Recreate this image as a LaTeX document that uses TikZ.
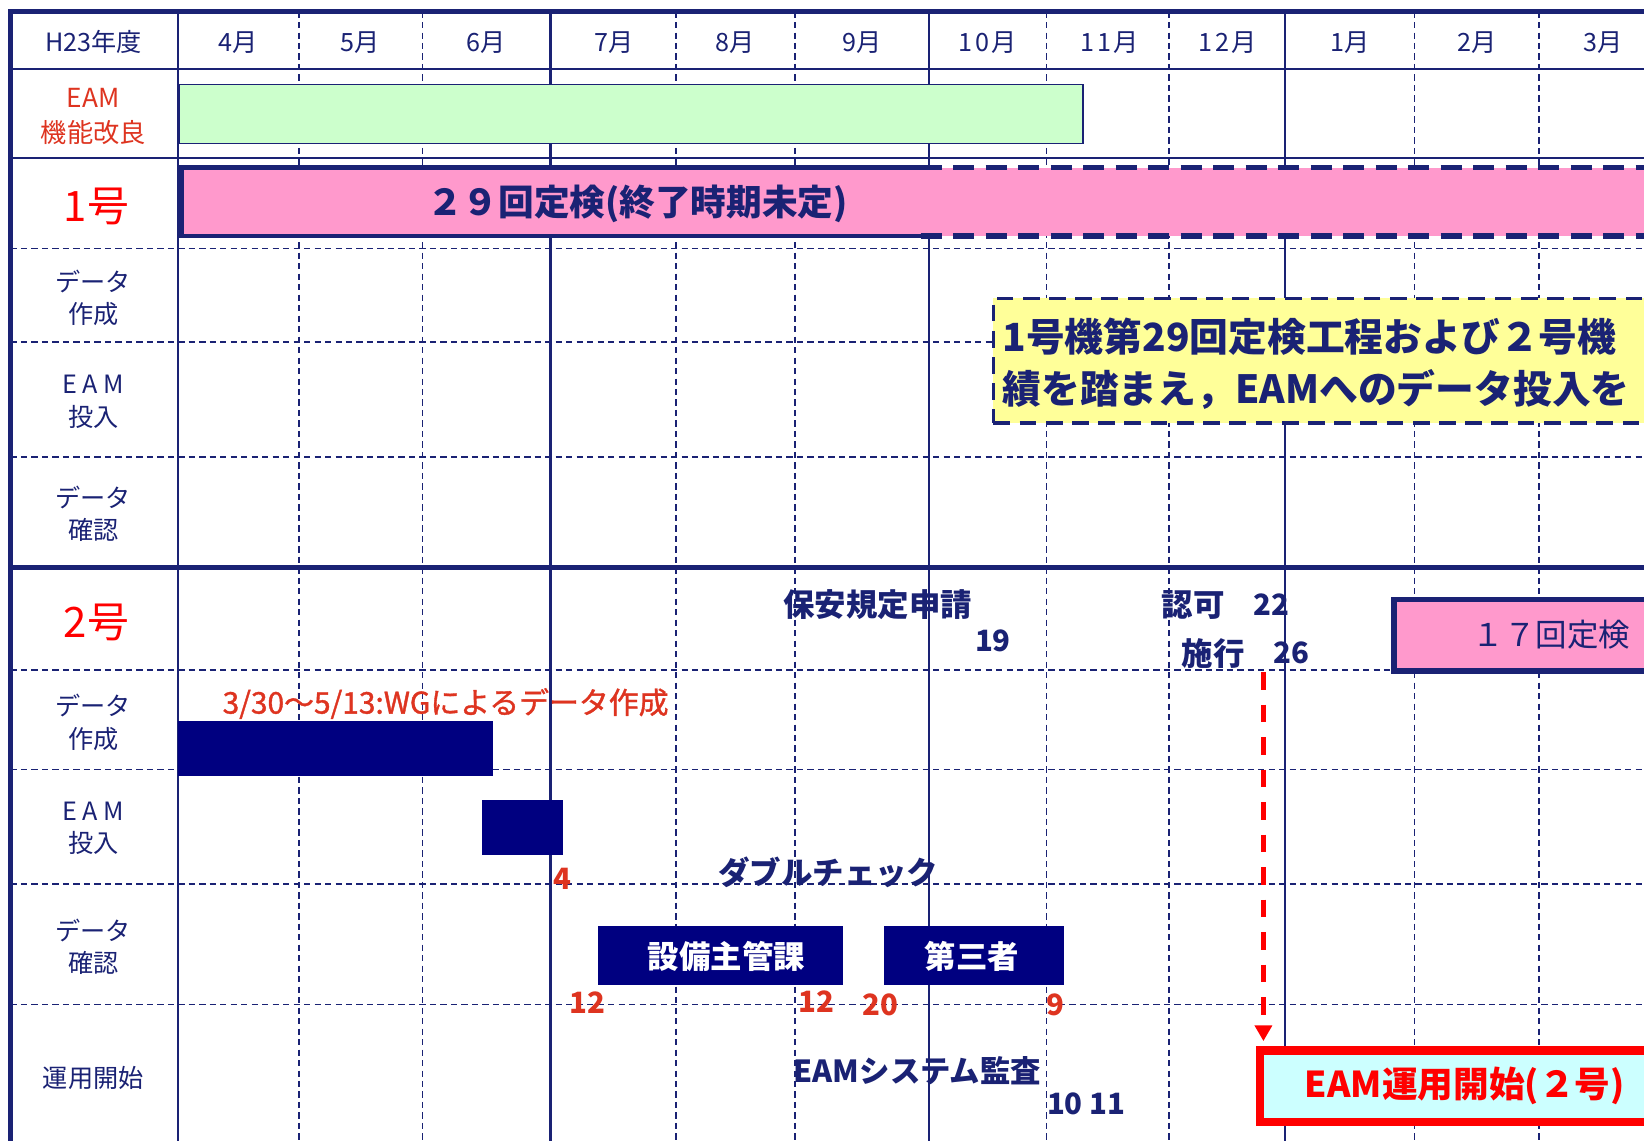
\documentclass[tikz,border=0pt]{standalone}
\usepackage{fontspec}
\newfontfamily\jp{Noto Sans CJK JP}
\newfontfamily\jpm[FakeBold=1.2]{Noto Sans CJK JP}
\usetikzlibrary{arrows.meta}
\definecolor{navy}{RGB}{26,34,116}
\definecolor{barnavy}{RGB}{0,0,128}
\definecolor{pinkfill}{RGB}{255,153,204}
\definecolor{greenfill}{RGB}{204,255,204}
\definecolor{yellowfill}{RGB}{255,255,153}
\definecolor{cyanfill}{RGB}{204,255,255}
\definecolor{redorange}{RGB}{222,52,32}
\definecolor{purered}{RGB}{255,0,0}
\newcommand\fsz[2]{\fontsize{#1}{#2}\selectfont}
\tikzset{
  gridsolid/.style={draw=navy, line width=2pt},
  griddash/.style={draw=navy, line width=1.6pt, dash pattern=on 6pt off 4pt},
  hdr/.style={text=navy, font=\jp\fsz{24}{28}, inner sep=0pt},
  lbl/.style={text=navy, font=\jp\fsz{24}{31}, align=center, inner sep=0pt},
  biglbl/.style={text=purered, font=\jp\fsz{40}{44}, inner sep=0pt},
  boldtxt/.style={text=navy, font=\jp\bfseries\fsz{30}{34}, inner sep=0pt},
  numtxt/.style={text=navy, font=\jp\bfseries\fsz{28}{32}, inner sep=0pt},
  rednum/.style={text=redorange, font=\jp\bfseries\fsz{28}{32}, inner sep=0pt},
  navybar/.style={fill=barnavy, draw=barnavy, line width=1pt, anchor=north west, inner sep=0pt},
  whitetxt/.style={text=white, font=\jp\bfseries\fsz{30}{34}, inner sep=0pt},
  notetxt/.style={text=navy, font=\jp\bfseries\fsz{37}{42}, anchor=west, inner sep=0pt},
}
\begin{document}
\begin{tikzpicture}[x=1pt,y=-1pt]
\useasboundingbox (0,0) rectangle (1568,1088);
\clip (0,0) rectangle (1568,1088);
\fill[white] (0,0) rectangle (1568,1088);
% grid
\foreach \x in {170,525,886,1226} \draw[gridsolid] (\x,11) -- (\x,1100);
\foreach \x in {285,403,645,758,998,1115,1349,1468} \draw[griddash] (\x,11) -- (\x,1100);
\foreach \y in {66,151} \draw[gridsolid] (10,\y) -- (1600,\y);
\foreach \y in {237,326,436,639,734,843,958} \draw[griddash] (10,\y) -- (1600,\y);
\draw[navy, line width=4.5pt] (10,541) -- (1600,541);
\draw[navy, line width=5pt] (10,1100) -- (10,11) -- (1600,11);
% header
\node[hdr] (hH) at (89,40) {H23年度};
\node[hdr] (m4) at (227,41) {4月};
\node[hdr] (m5) at (343,41) {5月};
\node[hdr] (m6) at (464,41) {6月};
\node[hdr] (m7) at (586,41) {7月};
\node[hdr] (m8) at (701,41) {8月};
\node[hdr] (m9) at (822,41) {9月};
\node[hdr] (m10) at (942,41) {1\kern3pt 0\kern2pt 月};
\node[hdr] (m11) at (1058,41) {1\kern3pt 1\kern2pt 月};
\node[hdr] (m12) at (1171,41) {1\kern3pt 2\kern2pt 月};
\node[hdr] (m1) at (1288,41) {1月};
\node[hdr] (m2) at (1409,41) {2月};
\node[hdr] (m3) at (1529,41) {3月};
% EAM improvement row
\node[lbl, text=redorange, font=\jp\fsz{25}{33}] (leam) at (89,111) {EAM\\機能改良};
\node[fill=greenfill, draw=navy, line width=1.5pt, minimum width=862pt, minimum height=56pt, anchor=north west, inner sep=0pt] (eambar) at (170,80) {};
% unit 1
\node[biglbl] (u1) at (92,197) {1号};
\fill[pinkfill] (173,160) rectangle (1600,225);
\draw[navy, line width=4.5pt] (878,160) -- (173,160) -- (173,225) -- (878,225);
\draw[navy, line width=5pt, dash pattern=on 20pt off 11pt] (878,160) -- (1600,160) (878,225) -- (1600,225);
\node[text=navy, font=\jp\bfseries\fsz{34}{38}, inner sep=0pt] (t29) at (608,194) {２９回定検(終了時期未定)};
\node[lbl] (l1a) at (89,284) {データ\\作成};
\node[lbl] (l1b) at (89,383) {E A M\\投入};
\node[lbl] (l1c) at (89,490) {データ\\確認};
\node[fill=yellowfill, draw=navy, line width=3pt, dash pattern=on 16pt off 9pt, minimum width=700pt, minimum height=119pt, anchor=north west, inner sep=0pt] (note) at (946,283) {};
\node[notetxt] (note1) at (956,321) {1号機第29回定検工程および２号機};
\node[notetxt] (note2) at (956,371) {績を踏まえ，EAMへのデータ投入を};
% unit 2
\node[biglbl] (u2) at (92,594) {2号};
\node[lbl] (l2a) at (89,689) {データ\\作成};
\node[lbl] (l2b) at (89,790) {E A M\\投入};
\node[lbl] (l2c) at (89,903) {データ\\確認};
\node[lbl] (l2d) at (89,1028) {運用開始};
\node[boldtxt] (hoan) at (837,577) {保安規定申請};
\node[numtxt] (d19) at (947,611) {19};
\node[boldtxt] (ninka) at (1138,577) {認可};
\node[numtxt] (d22) at (1213,577) {22};
\node[boldtxt] (shiko) at (1157,623) {施行};
\node[numtxt] (d26) at (1232,623) {26};
\node[fill=pinkfill, draw=navy, line width=5.5pt, minimum width=300pt, minimum height=68pt, anchor=north west, inner sep=0pt, text=navy, font=\jp\fsz{30}{34}] (t17) at (1327,569) {１７回定検};
\node[text=redorange, font=\jpm\fsz{28.5}{32}, inner sep=0pt] (wg) at (425,671) {3/30～5/13:WGによるデータ作成};
\node[navybar, minimum width=299pt, minimum height=51pt] (bar1) at (170,688) {};
\node[navybar, minimum width=76pt, minimum height=51pt] (bar2) at (460,763) {};
\node[rednum] (r4) at (536,838) {4};
\node[boldtxt] (dbl) at (790,832) {ダブルチェック};
\node[navybar, minimum width=233pt, minimum height=55pt] (setsubi) at (570,883) {};
\node[whitetxt] (setsubit) at (693,912) {設備主管課};
\node[navybar, minimum width=171pt, minimum height=55pt] (daisan) at (843,883) {};
\node[whitetxt] (daisant) at (927,912) {第三者};
\node[rednum] (r12a) at (560,956) {12};
\node[rednum] (r12b) at (779,955) {12};
\node[rednum] (r20) at (840,958) {20};
\node[rednum] (r9) at (1007,958) {9};
\node[boldtxt, font=\jp\bfseries\fsz{29}{33}] (audit) at (875,1021) {EAMシステム監査};
\node[numtxt] (d1011) at (1036,1053) {10 11};
\node[fill=cyanfill, draw=purered, line width=8pt, minimum width=390pt, minimum height=68pt, anchor=north west, inner sep=0pt, text=purered, font=\jp\bfseries\fsz{34}{38}] (eamstart) at (1198,998) {EAM運用開始(２号)};
\coordinate (arrtop) at (1205,641);
\draw[purered, line width=4.5pt, dash pattern=on 17pt off 14pt, shorten >=5pt, -{Triangle[width=16pt,length=15pt]}] (arrtop) -- (arrtop |- eamstart.north);
\end{tikzpicture}
\end{document}
